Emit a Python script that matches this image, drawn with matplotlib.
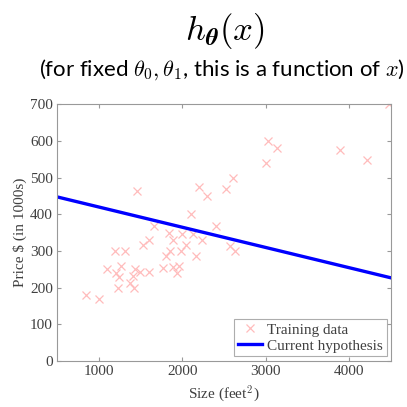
import numpy as np
import matplotlib
matplotlib.use("Agg")
import matplotlib.pyplot as plt

# training data: house size (feet^2) and price ($1000s)
size = [2104, 1600, 2400, 1416, 3000, 1985, 1534, 1427, 1380, 1494, 1940, 2000,
        1890, 4478, 1268, 2300, 1320, 1236, 2609, 3031, 1767, 1888, 1604, 1962,
        3890, 1100, 1458, 2526, 2200, 2637, 1839, 1000, 2040, 3137, 1811, 1437,
        1239, 2132, 4215, 2162, 1664, 2238, 2567, 1200, 852, 1852, 1203]
price = [399.9, 329.9, 369.0, 232.0, 539.9, 299.9, 314.9, 199.0, 212.0, 242.5,
         240.0, 347.0, 330.0, 699.9, 259.9, 449.9, 299.9, 199.9, 500.0, 599.0,
         252.9, 255.0, 242.9, 259.9, 573.9, 249.9, 464.5, 469.0, 475.0, 299.9,
         349.9, 169.9, 314.9, 579.9, 285.9, 249.9, 229.9, 345.0, 549.0, 287.0,
         368.5, 329.9, 314.0, 299.0, 179.9, 299.9, 239.5]

# current hypothesis h(x) = theta0 + theta1 * x
theta0 = 475.0
theta1 = -0.0552
x_line = np.array([500, 4500])
y_line = theta0 + theta1 * x_line

plt.rcParams['mathtext.fontset'] = 'cm'
txt = '#404040'

fig = plt.figure(figsize=(4.07, 4.07), dpi=100)
ax = fig.add_axes([0.140, 0.113, 0.821, 0.631])

ax.plot(size, price, 'x', color='#ffbcbc', ms=5.5, mew=0.9, label='Training data')
ax.plot(x_line, y_line, '-', color='#0000ff', lw=2.4, label='Current hypothesis')

ax.set_xlim(500, 4500)
ax.set_ylim(0, 700)
ax.set_xticks([1000, 2000, 3000, 4000])
ax.set_yticks(np.arange(0, 701, 100))

serif = 'Liberation Serif'
ax.tick_params(direction='in', length=3, top=True, right=True, colors='#999999',
               labelcolor=txt, labelsize=11, pad=3)
for lab in ax.get_xticklabels() + ax.get_yticklabels():
    lab.set_family(serif)
for s in ax.spines.values():
    s.set_color('#999999')
    s.set_linewidth(0.8)

ax.set_xlabel(r'Size (feet$^2$)', family=serif, fontsize=11, color=txt, labelpad=4)
ax.set_ylabel(r'Price \$ (in 1000s)', family=serif, fontsize=11, color=txt, labelpad=2)

leg = ax.legend(loc='lower right', fancybox=False, edgecolor='#999999',
                prop={'family': serif, 'size': 11}, handlelength=1.6,
                handletextpad=0.3, borderpad=0.25, labelspacing=0.15,
                borderaxespad=0.3)
for t in leg.get_texts():
    t.set_color(txt)
leg.get_frame().set_linewidth(0.8)

fig.text(0.552, 0.925, r'$h_{\boldsymbol{\theta}}(x)$', ha='center', va='center',
         fontsize=25, color='black')
fig.text(0.545, 0.828, r'(for fixed $\theta_0, \theta_1$, this is a function of $x$)',
         ha='center', va='center', fontsize=16, family='Lato', color='black')

fig.savefig('out.png', dpi=100)
